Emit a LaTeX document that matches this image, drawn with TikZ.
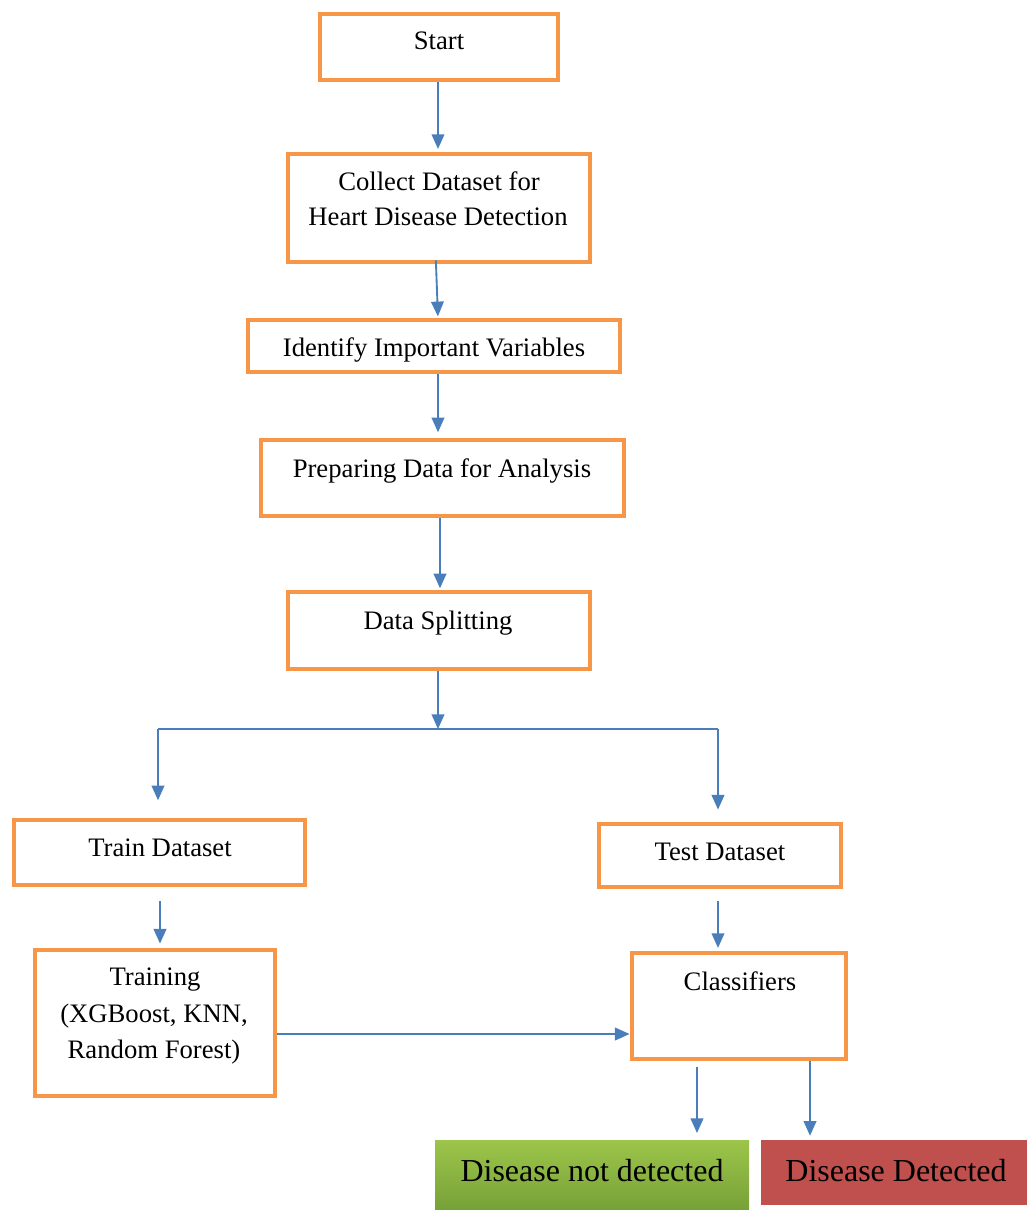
\documentclass[tikz,border=0pt]{standalone}
\usepackage{fontspec}
\setmainfont{Liberation Serif}
\usetikzlibrary{arrows.meta,fit,calc}
\definecolor{boxorange}{HTML}{F79646}
\definecolor{arrblue}{HTML}{4A7EBB}
\definecolor{gtop}{HTML}{9DC54B}
\definecolor{gbot}{HTML}{76A137}
\definecolor{redbox}{HTML}{C0504D}
\tikzset{
  box/.style={draw=boxorange, line width=3.6pt, fill=white, inner sep=0pt},
  lbl/.style={anchor=base, inner sep=0pt, font=\fontsize{20}{24}\selectfont},
  biglbl/.style={anchor=base, inner sep=0pt, font=\fontsize{24}{28}\selectfont},
  arr/.style={draw=arrblue, line width=1.4pt, -{Triangle[length=11pt,width=9.5pt]}},
  ln/.style={draw=arrblue, line width=1.4pt}
}
\begin{document}
\begin{tikzpicture}[x=0.75pt,y=-0.75pt]
\useasboundingbox (0,0) rectangle (1027,1210);
% boxes
\node[box, fit={(320,14)(558,80)}] (start) {};
\node[box, fit={(288,154)(590,262)}] (collect) {};
\node[box, fit={(248,320)(620,372)}] (identify) {};
\node[box, fit={(261,440)(624,516)}] (prep) {};
\node[box, fit={(288,592)(590,669)}] (split) {};
\node[box, fit={(14,820)(305,885)}] (train) {};
\node[box, fit={(599,824)(841,887)}] (test) {};
\node[box, fit={(35,950)(275,1096)}] (training) {};
\node[box, fit={(632,953)(846,1059)}] (classif) {};
\node[inner sep=0pt, top color=gtop, bottom color=gbot, fit={(435,1140)(749,1210)}] (notdet) {};
\node[inner sep=0pt, fill=redbox, fit={(761,1140)(1027,1205)}] (det) {};
% texts
\node[lbl] (tstart) at (439,49) {Start};
\node[lbl] (tcollect1) at (439,190) {Collect Dataset for};
\node[lbl] (tcollect2) at (438,225) {Heart Disease Detection};
\node[lbl] (tidentify) at (434,356) {Identify Important Variables};
\node[lbl] (tprep) at (442,477) {Preparing Data for Analysis};
\node[lbl] (tsplit) at (438,629) {Data Splitting};
\node[lbl] (ttrain) at (160,856) {Train Dataset};
\node[lbl] (ttest) at (720,860) {Test Dataset};
\node[lbl] (ttraining1) at (155,985) {Training};
\node[lbl] (ttraining2) at (154,1022) {(XGBoost, KNN,};
\node[lbl] (ttraining3) at (154,1058) {Random Forest)};
\node[lbl] (tclassif) at (740,990) {Classifiers};
\node[biglbl] (tnotdet) at (592,1181) {Disease not detected};
\node[biglbl] (tdet) at (896,1181) {Disease Detected};
% connectors
\coordinate (j) at (438,729);
\coordinate (jl) at (158,729);
\coordinate (jr) at (718,729);
\draw[arr, shorten >=2pt] (start.south -| 438,0) -- (collect.north -| 438,0);
\draw[arr, shorten <=-3pt, shorten >=1pt] (collect.south -| 436,0) -- (identify.north -| 438,0);
\draw[arr, shorten >=4pt] (identify.south -| 438,0) -- (prep.north -| 438,0);
\draw[arr, shorten >=1pt] (prep.south -| 440,0) -- (split.north -| 440,0);
\draw[arr] (split.south -| j) -- (j);
\draw[ln] (jl) -- (jr);
\draw[arr, shorten >=13pt] (jl) -- (jl |- train.north);
\draw[arr, shorten >=9pt] (jr) -- (jr |- test.north);
\draw[arr, shorten <=10pt, shorten >=3pt] (train.south -| 160,0) -- (training.north -| 160,0);
\draw[arr, shorten <=9pt, shorten >=2pt] (test.south -| jr) -- (classif.north -| jr);
\draw[arr] ($(training.east)+(0,11)$) -- ($(classif.west)+(0,28)$);
\draw[arr, shorten <=4pt, shorten >=5pt] (classif.south -| 697,0) -- (notdet.north -| 697,0);
\draw[arr, shorten >=3pt] (classif.south -| 810,0) -- (det.north -| 810,0);
\end{tikzpicture}
\end{document}
